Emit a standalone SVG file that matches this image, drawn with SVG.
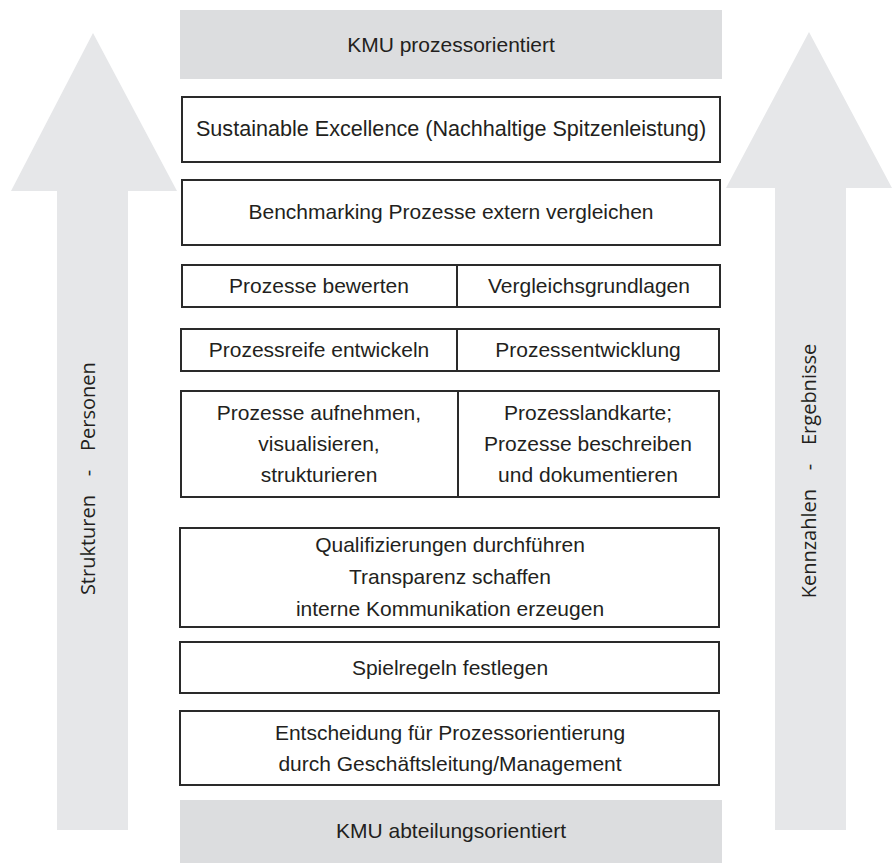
<svg xmlns="http://www.w3.org/2000/svg" width="893" height="863" viewBox="0 0 893 863">
<style>
.arrow{fill:#e6e7e9}
.band{fill:#dcdddf}
.box{fill:#fff;stroke:#2a2a2a;stroke-width:2}
.div{stroke:#2a2a2a;stroke-width:2}
.t{font-family:"Liberation Sans",Arial,sans-serif;font-size:21px;fill:#231f20;text-anchor:middle}
.v{font-family:"Open Sans","Liberation Sans",sans-serif;font-size:20px;fill:#231f20}
</style>
<rect width="893" height="863" fill="#fff"/>
<g id="arrow-left">
<polygon class="arrow" points="93,33 177,191 128,191 128,830 57,830 57,191 11,191"/>
<g transform="translate(95,473) rotate(-90)">
<text class="v" x="0" y="0" text-anchor="middle">-</text>
<text class="v" x="22" y="0" text-anchor="start">Personen</text>
<text class="v" x="-22" y="0" text-anchor="end">Strukturen</text>
</g>
</g>
<g id="arrow-right">
<polygon class="arrow" points="809,32 892,188 846,188 846,830 775,830 775,188 726,188"/>
<g transform="translate(816,467) rotate(-90)">
<text class="v" x="0" y="0" text-anchor="middle">-</text>
<text class="v" x="22" y="0" text-anchor="start">Ergebnisse</text>
<text class="v" x="-22" y="0" text-anchor="end">Kennzahlen</text>
</g>
</g>
<g id="top">
<rect class="band" x="180" y="10" width="542" height="69"/>
<text class="t" x="451" y="52">KMU prozessorientiert</text>
</g>
<g id="sustainable">
<rect class="box" x="182" y="97" width="538" height="65"/>
<text class="t" x="451" y="136" style="font-size:21.6px">Sustainable Excellence (Nachhaltige Spitzenleistung)</text>
</g>
<g id="benchmarking">
<rect class="box" x="182" y="180" width="538" height="65"/>
<text class="t" x="451" y="219">Benchmarking Prozesse extern vergleichen</text>
</g>
<g id="bewerten">
<rect class="box" x="182" y="265" width="538" height="42"/>
<line class="div" x1="457" y1="265" x2="457" y2="307"/>
<text class="t" x="319" y="293">Prozesse bewerten</text>
<text class="t" x="589" y="293">Vergleichsgrundlagen</text>
</g>
<g id="prozessreife">
<rect class="box" x="181" y="329" width="538" height="42"/>
<line class="div" x1="457" y1="329" x2="457" y2="371"/>
<text class="t" x="319" y="357">Prozessreife entwickeln</text>
<text class="t" x="588" y="357">Prozessentwicklung</text>
</g>
<g id="aufnehmen">
<rect class="box" x="181" y="391" width="538" height="106"/>
<line class="div" x1="458" y1="391" x2="458" y2="497"/>
<text class="t" x="319" y="420">Prozesse aufnehmen,</text>
<text class="t" x="319" y="451">visualisieren,</text>
<text class="t" x="319" y="482">strukturieren</text>
<text class="t" x="588" y="420">Prozesslandkarte;</text>
<text class="t" x="588" y="451">Prozesse beschreiben</text>
<text class="t" x="588" y="482">und dokumentieren</text>
</g>
<g id="qualifizierungen">
<rect class="box" x="180" y="528" width="539" height="99"/>
<text class="t" x="450" y="552">Qualifizierungen durchführen</text>
<text class="t" x="450" y="584">Transparenz schaffen</text>
<text class="t" x="450" y="616">interne Kommunikation erzeugen</text>
</g>
<g id="spielregeln">
<rect class="box" x="180" y="642" width="539" height="51"/>
<text class="t" x="450" y="675">Spielregeln festlegen</text>
</g>
<g id="entscheidung">
<rect class="box" x="180" y="711" width="539" height="74"/>
<text class="t" x="450" y="740">Entscheidung für Prozessorientierung</text>
<text class="t" x="450" y="771">durch Geschäftsleitung/Management</text>
</g>
<g id="bottom">
<rect class="band" x="180" y="800" width="542" height="63"/>
<text class="t" x="451" y="838">KMU abteilungsorientiert</text>
</g>
<g id="connectors"></g>
</svg>
